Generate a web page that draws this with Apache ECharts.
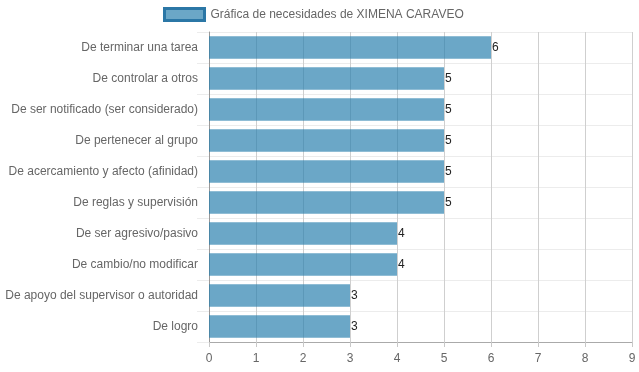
<!DOCTYPE html>
<html>
<head>
<meta charset="utf-8">
<script src="https://cdn.jsdelivr.net/npm/echarts@6/dist/echarts.min.js"></script>
<style>html,body{margin:0;padding:0;background:#fff}#c{width:639px;height:372px}</style>
</head>
<body>
<div id="c"></div>
<script>
const categories = [
  "De terminar una tarea",
  "De controlar a otros",
  "De ser notificado (ser considerado)",
  "De pertenecer al grupo",
  "De acercamiento y afecto (afinidad)",
  "De reglas y supervisión",
  "De ser agresivo/pasivo",
  "De cambio/no modificar",
  "De apoyo del supervisor o autoridad",
  "De logro"
];
const values = [6, 5, 5, 5, 5, 5, 4, 4, 3, 3];
const xTicks = [0, 1, 2, 3, 4, 5, 6, 7, 8, 9];
const seriesName = "Gráfica de necesidades de XIMENA CARAVEO";

const chart = echarts.init(document.getElementById('c'), null, {renderer: 'canvas'});
const font = "'Liberation Sans', Arial, Helvetica, sans-serif";
chart.setOption({
  animation: false,
  textStyle: {fontFamily: font},
  legend: {
    top: 4,
    left: 163,
    padding: [3, 0, 3, 0],
    icon: 'rect',
    itemWidth: 40,
    itemHeight: 12,
    itemGap: 6,
    textStyle: {color: '#666', fontSize: 12, fontFamily: font, padding: [0, 0, 0, 1]},
    itemStyle: {color: 'rgba(37,125,172,0.68)', borderColor: '#2b77a6', borderWidth: 3},
    data: [seriesName]
  },
  grid: {left: 209, right: 7, top: 32, bottom: 30, containLabel: false},
  xAxis: {
    type: 'value',
    min: xTicks[0],
    max: xTicks[xTicks.length - 1],
    interval: 1,
    axisLine: {show: true, lineStyle: {color: '#aaa'}},
    axisTick: {show: true, length: 5, lineStyle: {color: '#c8c8c8'}},
    axisLabel: {color: '#666', fontSize: 12, margin: 11, fontFamily: font},
    splitLine: {show: true, lineStyle: {color: '#cfcfcf'}}
  },
  yAxis: {
    type: 'category',
    inverse: true,
    data: categories,
    axisLine: {show: true, lineStyle: {color: '#999'}},
    axisTick: {show: true, length: 12, lineStyle: {color: '#ececec'}},
    axisLabel: {color: '#666', fontSize: 12, margin: 11, fontFamily: font},
    splitLine: {show: true, lineStyle: {color: '#ececec'}}
  },
  series: [{
    name: seriesName,
    type: 'bar',
    data: values,
    barCategoryGap: '28%',
    itemStyle: {color: 'rgba(37,125,172,0.68)'},
    label: {show: true, position: 'right', distance: 1, color: '#222', fontSize: 12, fontFamily: font}
  }]
});
</script>
</body>
</html>
